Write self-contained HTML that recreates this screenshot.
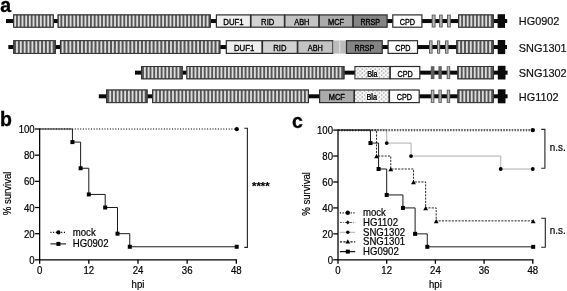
<!DOCTYPE html>
<html><head><meta charset="utf-8"><title>Figure</title>
<style>html,body{margin:0;padding:0;background:#fff}svg{display:block;filter:blur(0.35px)}.t{stroke:#000;stroke-width:.2px}</style></head>
<body>
<svg width="567" height="291" viewBox="0 0 567 291" font-family='"Liberation Sans", Arial, sans-serif'>
<defs><pattern id="dots" width="4.3" height="4" patternUnits="userSpaceOnUse"><rect width="4.3" height="4" fill="#f4f4f4"/><rect x="0.5" y="0.5" width="1.1" height="1.1" fill="#7e7e7e"/><rect x="2.65" y="2.5" width="1.1" height="1.1" fill="#888"/></pattern></defs>
<rect width="567" height="291" fill="#fff"/>
<rect x="6.00" y="19.05" width="7.50" height="4.00" fill="#0a0a0a"/>
<rect x="53.00" y="19.05" width="6.00" height="4.00" fill="#0a0a0a"/>
<rect x="210.00" y="19.05" width="6.50" height="4.00" fill="#0a0a0a"/>
<rect x="387.00" y="19.05" width="6.00" height="4.00" fill="#0a0a0a"/>
<rect x="422.00" y="19.05" width="36.50" height="4.00" fill="#0a0a0a"/>
<rect x="494.00" y="19.05" width="13.20" height="4.00" fill="#0a0a0a"/>
<rect x="13.10" y="14.40" width="40.70" height="13.30" fill="#565656"/><rect x="14.22" y="15.20" width="1.85" height="11.70" fill="#dcdcdc"/><rect x="17.89" y="15.20" width="1.85" height="11.70" fill="#dcdcdc"/><rect x="21.57" y="15.20" width="1.85" height="11.70" fill="#dcdcdc"/><rect x="25.24" y="15.20" width="1.85" height="11.70" fill="#dcdcdc"/><rect x="28.91" y="15.20" width="1.85" height="11.70" fill="#dcdcdc"/><rect x="32.58" y="15.20" width="1.85" height="11.70" fill="#dcdcdc"/><rect x="36.25" y="15.20" width="1.85" height="11.70" fill="#dcdcdc"/><rect x="39.92" y="15.20" width="1.85" height="11.70" fill="#dcdcdc"/><rect x="43.59" y="15.20" width="1.85" height="11.70" fill="#dcdcdc"/><rect x="47.26" y="15.20" width="1.85" height="11.70" fill="#dcdcdc"/><rect x="50.93" y="15.20" width="1.85" height="11.70" fill="#dcdcdc"/><rect x="13.60" y="14.90" width="39.70" height="12.30" fill="none" stroke="#333" stroke-width="1"/>
<rect x="57.60" y="14.40" width="153.20" height="13.30" fill="#565656"/><rect x="58.58" y="15.20" width="1.85" height="11.70" fill="#dcdcdc"/><rect x="62.28" y="15.20" width="1.85" height="11.70" fill="#dcdcdc"/><rect x="65.98" y="15.20" width="1.85" height="11.70" fill="#dcdcdc"/><rect x="69.68" y="15.20" width="1.85" height="11.70" fill="#dcdcdc"/><rect x="73.38" y="15.20" width="1.85" height="11.70" fill="#dcdcdc"/><rect x="77.08" y="15.20" width="1.85" height="11.70" fill="#dcdcdc"/><rect x="80.78" y="15.20" width="1.85" height="11.70" fill="#dcdcdc"/><rect x="84.48" y="15.20" width="1.85" height="11.70" fill="#dcdcdc"/><rect x="88.18" y="15.20" width="1.85" height="11.70" fill="#dcdcdc"/><rect x="91.88" y="15.20" width="1.85" height="11.70" fill="#dcdcdc"/><rect x="95.58" y="15.20" width="1.85" height="11.70" fill="#dcdcdc"/><rect x="99.28" y="15.20" width="1.85" height="11.70" fill="#dcdcdc"/><rect x="102.98" y="15.20" width="1.85" height="11.70" fill="#dcdcdc"/><rect x="106.68" y="15.20" width="1.85" height="11.70" fill="#dcdcdc"/><rect x="110.38" y="15.20" width="1.85" height="11.70" fill="#dcdcdc"/><rect x="114.08" y="15.20" width="1.85" height="11.70" fill="#dcdcdc"/><rect x="117.78" y="15.20" width="1.85" height="11.70" fill="#dcdcdc"/><rect x="121.48" y="15.20" width="1.85" height="11.70" fill="#dcdcdc"/><rect x="125.18" y="15.20" width="1.85" height="11.70" fill="#dcdcdc"/><rect x="128.88" y="15.20" width="1.85" height="11.70" fill="#dcdcdc"/><rect x="132.58" y="15.20" width="1.85" height="11.70" fill="#dcdcdc"/><rect x="136.28" y="15.20" width="1.85" height="11.70" fill="#dcdcdc"/><rect x="139.97" y="15.20" width="1.85" height="11.70" fill="#dcdcdc"/><rect x="143.67" y="15.20" width="1.85" height="11.70" fill="#dcdcdc"/><rect x="147.37" y="15.20" width="1.85" height="11.70" fill="#dcdcdc"/><rect x="151.07" y="15.20" width="1.85" height="11.70" fill="#dcdcdc"/><rect x="154.77" y="15.20" width="1.85" height="11.70" fill="#dcdcdc"/><rect x="158.47" y="15.20" width="1.85" height="11.70" fill="#dcdcdc"/><rect x="162.17" y="15.20" width="1.85" height="11.70" fill="#dcdcdc"/><rect x="165.87" y="15.20" width="1.85" height="11.70" fill="#dcdcdc"/><rect x="169.57" y="15.20" width="1.85" height="11.70" fill="#dcdcdc"/><rect x="173.27" y="15.20" width="1.85" height="11.70" fill="#dcdcdc"/><rect x="176.97" y="15.20" width="1.85" height="11.70" fill="#dcdcdc"/><rect x="180.67" y="15.20" width="1.85" height="11.70" fill="#dcdcdc"/><rect x="184.37" y="15.20" width="1.85" height="11.70" fill="#dcdcdc"/><rect x="188.07" y="15.20" width="1.85" height="11.70" fill="#dcdcdc"/><rect x="191.77" y="15.20" width="1.85" height="11.70" fill="#dcdcdc"/><rect x="195.47" y="15.20" width="1.85" height="11.70" fill="#dcdcdc"/><rect x="199.17" y="15.20" width="1.85" height="11.70" fill="#dcdcdc"/><rect x="202.87" y="15.20" width="1.85" height="11.70" fill="#dcdcdc"/><rect x="206.57" y="15.20" width="1.85" height="11.70" fill="#dcdcdc"/><rect x="58.10" y="14.90" width="152.20" height="12.30" fill="none" stroke="#333" stroke-width="1"/>
<rect x="216.40" y="14.90" width="34.10" height="12.30" fill="#efefef" stroke="#2c2c2c" stroke-width="1.2"/>
<text transform="translate(233.45,24.90) scale(0.9,1)" font-size="8.7" text-anchor="middle" fill="#000" stroke="#000" stroke-width="0.35">DUF1</text>
<rect x="251.00" y="14.90" width="33.40" height="12.30" fill="#d2d2d2" stroke="#2c2c2c" stroke-width="1.2"/>
<text transform="translate(267.70,24.90) scale(0.88,1)" font-size="8.7" text-anchor="middle" fill="#000" stroke="#000" stroke-width="0.35">RID</text>
<rect x="284.90" y="14.90" width="33.90" height="12.30" fill="#c3c3c3" stroke="#2c2c2c" stroke-width="1.2"/>
<text transform="translate(301.85,24.90) scale(0.85,1)" font-size="8.7" text-anchor="middle" fill="#000" stroke="#000" stroke-width="0.35">ABH</text>
<rect x="319.30" y="14.90" width="33.50" height="12.30" fill="#ababab" stroke="#2c2c2c" stroke-width="1.2"/>
<text transform="translate(336.05,24.90) scale(0.855,1)" font-size="8.7" text-anchor="middle" fill="#000" stroke="#000" stroke-width="0.35">MCF</text>
<rect x="353.30" y="14.90" width="33.80" height="12.30" fill="#848484" stroke="#2c2c2c" stroke-width="1.2"/>
<text transform="translate(370.20,24.90) scale(0.81,1)" font-size="8.7" text-anchor="middle" fill="#000" stroke="#000" stroke-width="0.35">RRSP</text>
<rect x="392.80" y="14.90" width="29.10" height="12.30" fill="#fff" stroke="#2c2c2c" stroke-width="1.2"/>
<text transform="translate(407.35,24.90) scale(0.835,1)" font-size="8.7" text-anchor="middle" fill="#000" stroke="#000" stroke-width="0.35">CPD</text>
<rect x="431.70" y="14.60" width="3.90" height="12.90" fill="#606060"/>
<rect x="432.70" y="15.50" width="1.90" height="11.10" fill="#b8b8b8"/>
<rect x="439.10" y="14.60" width="3.60" height="12.90" fill="#606060"/>
<rect x="440.10" y="15.50" width="1.60" height="11.10" fill="#b8b8b8"/>
<rect x="447.00" y="14.60" width="3.80" height="12.90" fill="#606060"/>
<rect x="448.00" y="15.50" width="1.80" height="11.10" fill="#b8b8b8"/>
<rect x="458.10" y="14.40" width="35.70" height="13.30" fill="#565656"/><rect x="459.32" y="15.20" width="1.85" height="11.70" fill="#dcdcdc"/><rect x="463.02" y="15.20" width="1.85" height="11.70" fill="#dcdcdc"/><rect x="466.72" y="15.20" width="1.85" height="11.70" fill="#dcdcdc"/><rect x="470.42" y="15.20" width="1.85" height="11.70" fill="#dcdcdc"/><rect x="474.12" y="15.20" width="1.85" height="11.70" fill="#dcdcdc"/><rect x="477.82" y="15.20" width="1.85" height="11.70" fill="#dcdcdc"/><rect x="481.52" y="15.20" width="1.85" height="11.70" fill="#dcdcdc"/><rect x="485.22" y="15.20" width="1.85" height="11.70" fill="#dcdcdc"/><rect x="488.92" y="15.20" width="1.85" height="11.70" fill="#dcdcdc"/><rect x="458.60" y="14.90" width="34.70" height="12.30" fill="none" stroke="#333" stroke-width="1"/>
<rect x="497.60" y="14.20" width="7.40" height="13.70" fill="#0a0a0a"/>
<text x="518.8" y="24.8" font-size="10.9" fill="#111" stroke="#111" stroke-width="0.2">HG0902</text>
<rect x="8.30" y="45.05" width="5.30" height="4.00" fill="#0a0a0a"/>
<rect x="55.00" y="45.05" width="5.00" height="4.00" fill="#0a0a0a"/>
<rect x="219.50" y="45.05" width="6.80" height="4.00" fill="#0a0a0a"/>
<rect x="382.00" y="45.05" width="6.00" height="4.00" fill="#0a0a0a"/>
<rect x="417.50" y="45.05" width="39.50" height="4.00" fill="#0a0a0a"/>
<rect x="493.50" y="45.05" width="13.50" height="4.00" fill="#0a0a0a"/>
<rect x="13.20" y="40.20" width="42.70" height="13.70" fill="#565656"/><rect x="16.04" y="41.00" width="1.85" height="12.10" fill="#dcdcdc"/><rect x="19.89" y="41.00" width="1.85" height="12.10" fill="#dcdcdc"/><rect x="23.75" y="41.00" width="1.85" height="12.10" fill="#dcdcdc"/><rect x="27.61" y="41.00" width="1.85" height="12.10" fill="#dcdcdc"/><rect x="31.47" y="41.00" width="1.85" height="12.10" fill="#dcdcdc"/><rect x="35.34" y="41.00" width="1.85" height="12.10" fill="#dcdcdc"/><rect x="39.20" y="41.00" width="1.85" height="12.10" fill="#dcdcdc"/><rect x="43.05" y="41.00" width="1.85" height="12.10" fill="#dcdcdc"/><rect x="46.91" y="41.00" width="1.85" height="12.10" fill="#dcdcdc"/><rect x="50.77" y="41.00" width="1.85" height="12.10" fill="#dcdcdc"/><rect x="13.70" y="40.70" width="41.70" height="12.70" fill="none" stroke="#333" stroke-width="1"/>
<rect x="59.95" y="40.20" width="160.45" height="13.70" fill="#565656"/><rect x="61.68" y="41.00" width="1.85" height="12.10" fill="#dcdcdc"/><rect x="65.55" y="41.00" width="1.85" height="12.10" fill="#dcdcdc"/><rect x="69.42" y="41.00" width="1.85" height="12.10" fill="#dcdcdc"/><rect x="73.29" y="41.00" width="1.85" height="12.10" fill="#dcdcdc"/><rect x="77.16" y="41.00" width="1.85" height="12.10" fill="#dcdcdc"/><rect x="81.03" y="41.00" width="1.85" height="12.10" fill="#dcdcdc"/><rect x="84.90" y="41.00" width="1.85" height="12.10" fill="#dcdcdc"/><rect x="88.77" y="41.00" width="1.85" height="12.10" fill="#dcdcdc"/><rect x="92.64" y="41.00" width="1.85" height="12.10" fill="#dcdcdc"/><rect x="96.51" y="41.00" width="1.85" height="12.10" fill="#dcdcdc"/><rect x="100.38" y="41.00" width="1.85" height="12.10" fill="#dcdcdc"/><rect x="104.26" y="41.00" width="1.85" height="12.10" fill="#dcdcdc"/><rect x="108.13" y="41.00" width="1.85" height="12.10" fill="#dcdcdc"/><rect x="112.00" y="41.00" width="1.85" height="12.10" fill="#dcdcdc"/><rect x="115.87" y="41.00" width="1.85" height="12.10" fill="#dcdcdc"/><rect x="119.74" y="41.00" width="1.85" height="12.10" fill="#dcdcdc"/><rect x="123.61" y="41.00" width="1.85" height="12.10" fill="#dcdcdc"/><rect x="127.48" y="41.00" width="1.85" height="12.10" fill="#dcdcdc"/><rect x="131.35" y="41.00" width="1.85" height="12.10" fill="#dcdcdc"/><rect x="135.22" y="41.00" width="1.85" height="12.10" fill="#dcdcdc"/><rect x="139.09" y="41.00" width="1.85" height="12.10" fill="#dcdcdc"/><rect x="142.97" y="41.00" width="1.85" height="12.10" fill="#dcdcdc"/><rect x="146.84" y="41.00" width="1.85" height="12.10" fill="#dcdcdc"/><rect x="150.71" y="41.00" width="1.85" height="12.10" fill="#dcdcdc"/><rect x="154.58" y="41.00" width="1.85" height="12.10" fill="#dcdcdc"/><rect x="158.45" y="41.00" width="1.85" height="12.10" fill="#dcdcdc"/><rect x="162.32" y="41.00" width="1.85" height="12.10" fill="#dcdcdc"/><rect x="166.19" y="41.00" width="1.85" height="12.10" fill="#dcdcdc"/><rect x="170.06" y="41.00" width="1.85" height="12.10" fill="#dcdcdc"/><rect x="173.93" y="41.00" width="1.85" height="12.10" fill="#dcdcdc"/><rect x="177.81" y="41.00" width="1.85" height="12.10" fill="#dcdcdc"/><rect x="181.68" y="41.00" width="1.85" height="12.10" fill="#dcdcdc"/><rect x="185.55" y="41.00" width="1.85" height="12.10" fill="#dcdcdc"/><rect x="189.42" y="41.00" width="1.85" height="12.10" fill="#dcdcdc"/><rect x="193.29" y="41.00" width="1.85" height="12.10" fill="#dcdcdc"/><rect x="197.16" y="41.00" width="1.85" height="12.10" fill="#dcdcdc"/><rect x="201.03" y="41.00" width="1.85" height="12.10" fill="#dcdcdc"/><rect x="204.90" y="41.00" width="1.85" height="12.10" fill="#dcdcdc"/><rect x="208.77" y="41.00" width="1.85" height="12.10" fill="#dcdcdc"/><rect x="212.64" y="41.00" width="1.85" height="12.10" fill="#dcdcdc"/><rect x="216.52" y="41.00" width="1.85" height="12.10" fill="#dcdcdc"/><rect x="60.45" y="40.70" width="159.45" height="12.70" fill="none" stroke="#333" stroke-width="1"/>
<rect x="226.30" y="40.70" width="35.70" height="12.70" fill="#efefef" stroke="#2c2c2c" stroke-width="1.2"/>
<text transform="translate(244.15,50.90) scale(0.9,1)" font-size="8.7" text-anchor="middle" fill="#000" stroke="#000" stroke-width="0.35">DUF1</text>
<rect x="262.50" y="40.70" width="34.80" height="12.70" fill="#d2d2d2" stroke="#2c2c2c" stroke-width="1.2"/>
<text transform="translate(279.90,50.90) scale(0.88,1)" font-size="8.7" text-anchor="middle" fill="#000" stroke="#000" stroke-width="0.35">RID</text>
<rect x="297.80" y="40.70" width="35.10" height="12.70" fill="#c3c3c3" stroke="#2c2c2c" stroke-width="1.2"/>
<text transform="translate(315.35,50.90) scale(0.85,1)" font-size="8.7" text-anchor="middle" fill="#000" stroke="#000" stroke-width="0.35">ABH</text>
<rect x="333.40" y="40.50" width="12.60" height="13.10" fill="#bcbcbc"/>
<rect x="339.00" y="40.50" width="1.4" height="13.10" fill="#d8d8d8"/>
<rect x="346.50" y="40.70" width="35.70" height="12.70" fill="#848484" stroke="#2c2c2c" stroke-width="1.2"/>
<text transform="translate(364.35,50.90) scale(0.81,1)" font-size="8.7" text-anchor="middle" fill="#000" stroke="#000" stroke-width="0.35">RRSP</text>
<rect x="388.10" y="40.70" width="29.40" height="12.70" fill="#fff" stroke="#2c2c2c" stroke-width="1.2"/>
<text transform="translate(402.80,50.90) scale(0.835,1)" font-size="8.7" text-anchor="middle" fill="#000" stroke="#000" stroke-width="0.35">CPD</text>
<rect x="429.00" y="40.40" width="3.60" height="13.30" fill="#606060"/>
<rect x="430.00" y="41.30" width="1.60" height="11.50" fill="#b8b8b8"/>
<rect x="437.00" y="40.40" width="3.20" height="13.30" fill="#606060"/>
<rect x="438.00" y="41.30" width="1.20" height="11.50" fill="#b8b8b8"/>
<rect x="445.00" y="40.40" width="3.50" height="13.30" fill="#606060"/>
<rect x="446.00" y="41.30" width="1.50" height="11.50" fill="#b8b8b8"/>
<rect x="456.20" y="40.20" width="37.60" height="13.70" fill="#565656"/><rect x="458.27" y="41.00" width="1.85" height="12.10" fill="#dcdcdc"/><rect x="462.13" y="41.00" width="1.85" height="12.10" fill="#dcdcdc"/><rect x="466.00" y="41.00" width="1.85" height="12.10" fill="#dcdcdc"/><rect x="469.86" y="41.00" width="1.85" height="12.10" fill="#dcdcdc"/><rect x="473.72" y="41.00" width="1.85" height="12.10" fill="#dcdcdc"/><rect x="477.58" y="41.00" width="1.85" height="12.10" fill="#dcdcdc"/><rect x="481.44" y="41.00" width="1.85" height="12.10" fill="#dcdcdc"/><rect x="485.30" y="41.00" width="1.85" height="12.10" fill="#dcdcdc"/><rect x="489.16" y="41.00" width="1.85" height="12.10" fill="#dcdcdc"/><rect x="456.70" y="40.70" width="36.60" height="12.70" fill="none" stroke="#333" stroke-width="1"/>
<rect x="497.70" y="40.00" width="7.50" height="14.10" fill="#0a0a0a"/>
<text x="518.8" y="51.7" font-size="10.9" fill="#111" stroke="#111" stroke-width="0.2">SNG1301</text>
<rect x="135.00" y="70.65" width="6.20" height="4.00" fill="#0a0a0a"/>
<rect x="182.50" y="70.65" width="4.10" height="4.00" fill="#0a0a0a"/>
<rect x="344.00" y="70.65" width="11.00" height="4.00" fill="#0a0a0a"/>
<rect x="420.00" y="70.65" width="38.00" height="4.00" fill="#0a0a0a"/>
<rect x="494.00" y="70.65" width="13.60" height="4.00" fill="#0a0a0a"/>
<rect x="141.00" y="66.00" width="41.70" height="13.30" fill="#565656"/><rect x="143.97" y="66.80" width="1.85" height="11.70" fill="#dcdcdc"/><rect x="147.69" y="66.80" width="1.85" height="11.70" fill="#dcdcdc"/><rect x="151.41" y="66.80" width="1.85" height="11.70" fill="#dcdcdc"/><rect x="155.12" y="66.80" width="1.85" height="11.70" fill="#dcdcdc"/><rect x="158.84" y="66.80" width="1.85" height="11.70" fill="#dcdcdc"/><rect x="162.55" y="66.80" width="1.85" height="11.70" fill="#dcdcdc"/><rect x="166.27" y="66.80" width="1.85" height="11.70" fill="#dcdcdc"/><rect x="169.98" y="66.80" width="1.85" height="11.70" fill="#dcdcdc"/><rect x="173.70" y="66.80" width="1.85" height="11.70" fill="#dcdcdc"/><rect x="177.41" y="66.80" width="1.85" height="11.70" fill="#dcdcdc"/><rect x="141.50" y="66.50" width="40.70" height="12.30" fill="none" stroke="#333" stroke-width="1"/>
<rect x="186.40" y="66.00" width="158.10" height="13.30" fill="#565656"/><rect x="187.07" y="66.80" width="1.85" height="11.70" fill="#dcdcdc"/><rect x="190.79" y="66.80" width="1.85" height="11.70" fill="#dcdcdc"/><rect x="194.50" y="66.80" width="1.85" height="11.70" fill="#dcdcdc"/><rect x="198.22" y="66.80" width="1.85" height="11.70" fill="#dcdcdc"/><rect x="201.94" y="66.80" width="1.85" height="11.70" fill="#dcdcdc"/><rect x="205.65" y="66.80" width="1.85" height="11.70" fill="#dcdcdc"/><rect x="209.37" y="66.80" width="1.85" height="11.70" fill="#dcdcdc"/><rect x="213.08" y="66.80" width="1.85" height="11.70" fill="#dcdcdc"/><rect x="216.80" y="66.80" width="1.85" height="11.70" fill="#dcdcdc"/><rect x="220.51" y="66.80" width="1.85" height="11.70" fill="#dcdcdc"/><rect x="224.23" y="66.80" width="1.85" height="11.70" fill="#dcdcdc"/><rect x="227.94" y="66.80" width="1.85" height="11.70" fill="#dcdcdc"/><rect x="231.66" y="66.80" width="1.85" height="11.70" fill="#dcdcdc"/><rect x="235.37" y="66.80" width="1.85" height="11.70" fill="#dcdcdc"/><rect x="239.09" y="66.80" width="1.85" height="11.70" fill="#dcdcdc"/><rect x="242.80" y="66.80" width="1.85" height="11.70" fill="#dcdcdc"/><rect x="246.52" y="66.80" width="1.85" height="11.70" fill="#dcdcdc"/><rect x="250.23" y="66.80" width="1.85" height="11.70" fill="#dcdcdc"/><rect x="253.95" y="66.80" width="1.85" height="11.70" fill="#dcdcdc"/><rect x="257.66" y="66.80" width="1.85" height="11.70" fill="#dcdcdc"/><rect x="261.38" y="66.80" width="1.85" height="11.70" fill="#dcdcdc"/><rect x="265.09" y="66.80" width="1.85" height="11.70" fill="#dcdcdc"/><rect x="268.80" y="66.80" width="1.85" height="11.70" fill="#dcdcdc"/><rect x="272.52" y="66.80" width="1.85" height="11.70" fill="#dcdcdc"/><rect x="276.23" y="66.80" width="1.85" height="11.70" fill="#dcdcdc"/><rect x="279.95" y="66.80" width="1.85" height="11.70" fill="#dcdcdc"/><rect x="283.66" y="66.80" width="1.85" height="11.70" fill="#dcdcdc"/><rect x="287.38" y="66.80" width="1.85" height="11.70" fill="#dcdcdc"/><rect x="291.09" y="66.80" width="1.85" height="11.70" fill="#dcdcdc"/><rect x="294.81" y="66.80" width="1.85" height="11.70" fill="#dcdcdc"/><rect x="298.52" y="66.80" width="1.85" height="11.70" fill="#dcdcdc"/><rect x="302.24" y="66.80" width="1.85" height="11.70" fill="#dcdcdc"/><rect x="305.95" y="66.80" width="1.85" height="11.70" fill="#dcdcdc"/><rect x="309.67" y="66.80" width="1.85" height="11.70" fill="#dcdcdc"/><rect x="313.38" y="66.80" width="1.85" height="11.70" fill="#dcdcdc"/><rect x="317.10" y="66.80" width="1.85" height="11.70" fill="#dcdcdc"/><rect x="320.81" y="66.80" width="1.85" height="11.70" fill="#dcdcdc"/><rect x="324.53" y="66.80" width="1.85" height="11.70" fill="#dcdcdc"/><rect x="328.24" y="66.80" width="1.85" height="11.70" fill="#dcdcdc"/><rect x="331.96" y="66.80" width="1.85" height="11.70" fill="#dcdcdc"/><rect x="335.67" y="66.80" width="1.85" height="11.70" fill="#dcdcdc"/><rect x="339.39" y="66.80" width="1.85" height="11.70" fill="#dcdcdc"/><rect x="186.90" y="66.50" width="157.10" height="12.30" fill="none" stroke="#333" stroke-width="1"/>
<rect x="354.90" y="66.50" width="34.90" height="12.30" fill="url(#dots)" stroke="#333" stroke-width="1.1"/>
<text transform="translate(372.35,76.50) scale(0.83,1)" font-size="8.7" text-anchor="middle" fill="#111" stroke="#f6f6f6" stroke-width="2" paint-order="stroke">Bla</text>
<text transform="translate(372.35,76.50) scale(0.83,1)" font-size="8.7" text-anchor="middle" fill="#111" stroke="#111" stroke-width="0.2">Bla</text>
<rect x="390.30" y="66.50" width="29.50" height="12.30" fill="#fff" stroke="#2c2c2c" stroke-width="1.2"/>
<text transform="translate(405.05,76.50) scale(0.835,1)" font-size="8.7" text-anchor="middle" fill="#000" stroke="#000" stroke-width="0.35">CPD</text>
<rect x="430.80" y="66.20" width="3.60" height="12.90" fill="#606060"/>
<rect x="438.40" y="66.20" width="3.40" height="12.90" fill="#606060"/>
<rect x="446.70" y="66.20" width="3.50" height="12.90" fill="#606060"/>
<rect x="447.70" y="67.10" width="1.50" height="11.10" fill="#b8b8b8"/>
<rect x="457.30" y="66.00" width="36.70" height="13.30" fill="#565656"/><rect x="458.98" y="66.80" width="1.85" height="11.70" fill="#dcdcdc"/><rect x="462.69" y="66.80" width="1.85" height="11.70" fill="#dcdcdc"/><rect x="466.39" y="66.80" width="1.85" height="11.70" fill="#dcdcdc"/><rect x="470.10" y="66.80" width="1.85" height="11.70" fill="#dcdcdc"/><rect x="473.81" y="66.80" width="1.85" height="11.70" fill="#dcdcdc"/><rect x="477.52" y="66.80" width="1.85" height="11.70" fill="#dcdcdc"/><rect x="481.23" y="66.80" width="1.85" height="11.70" fill="#dcdcdc"/><rect x="484.94" y="66.80" width="1.85" height="11.70" fill="#dcdcdc"/><rect x="488.65" y="66.80" width="1.85" height="11.70" fill="#dcdcdc"/><rect x="457.80" y="66.50" width="35.70" height="12.30" fill="none" stroke="#333" stroke-width="1"/>
<rect x="497.80" y="65.80" width="7.70" height="13.70" fill="#0a0a0a"/>
<text x="518.8" y="77" font-size="10.9" fill="#111" stroke="#111" stroke-width="0.2">SNG1302</text>
<rect x="98.80" y="94.30" width="7.20" height="4.00" fill="#0a0a0a"/>
<rect x="147.20" y="94.30" width="5.00" height="4.00" fill="#0a0a0a"/>
<rect x="308.50" y="94.30" width="11.10" height="4.00" fill="#0a0a0a"/>
<rect x="419.20" y="94.30" width="39.20" height="4.00" fill="#0a0a0a"/>
<rect x="494.00" y="94.30" width="13.60" height="4.00" fill="#0a0a0a"/>
<rect x="106.00" y="89.50" width="41.60" height="13.60" fill="#565656"/><rect x="109.28" y="90.30" width="1.85" height="12.00" fill="#dcdcdc"/><rect x="113.01" y="90.30" width="1.85" height="12.00" fill="#dcdcdc"/><rect x="116.74" y="90.30" width="1.85" height="12.00" fill="#dcdcdc"/><rect x="120.47" y="90.30" width="1.85" height="12.00" fill="#dcdcdc"/><rect x="124.20" y="90.30" width="1.85" height="12.00" fill="#dcdcdc"/><rect x="127.93" y="90.30" width="1.85" height="12.00" fill="#dcdcdc"/><rect x="131.66" y="90.30" width="1.85" height="12.00" fill="#dcdcdc"/><rect x="135.38" y="90.30" width="1.85" height="12.00" fill="#dcdcdc"/><rect x="139.11" y="90.30" width="1.85" height="12.00" fill="#dcdcdc"/><rect x="142.84" y="90.30" width="1.85" height="12.00" fill="#dcdcdc"/><rect x="106.50" y="90.00" width="40.60" height="12.60" fill="none" stroke="#333" stroke-width="1"/>
<rect x="152.00" y="89.50" width="157.00" height="13.60" fill="#565656"/><rect x="153.47" y="90.30" width="1.85" height="12.00" fill="#dcdcdc"/><rect x="157.19" y="90.30" width="1.85" height="12.00" fill="#dcdcdc"/><rect x="160.91" y="90.30" width="1.85" height="12.00" fill="#dcdcdc"/><rect x="164.62" y="90.30" width="1.85" height="12.00" fill="#dcdcdc"/><rect x="168.34" y="90.30" width="1.85" height="12.00" fill="#dcdcdc"/><rect x="172.06" y="90.30" width="1.85" height="12.00" fill="#dcdcdc"/><rect x="175.77" y="90.30" width="1.85" height="12.00" fill="#dcdcdc"/><rect x="179.49" y="90.30" width="1.85" height="12.00" fill="#dcdcdc"/><rect x="183.20" y="90.30" width="1.85" height="12.00" fill="#dcdcdc"/><rect x="186.92" y="90.30" width="1.85" height="12.00" fill="#dcdcdc"/><rect x="190.64" y="90.30" width="1.85" height="12.00" fill="#dcdcdc"/><rect x="194.35" y="90.30" width="1.85" height="12.00" fill="#dcdcdc"/><rect x="198.07" y="90.30" width="1.85" height="12.00" fill="#dcdcdc"/><rect x="201.78" y="90.30" width="1.85" height="12.00" fill="#dcdcdc"/><rect x="205.50" y="90.30" width="1.85" height="12.00" fill="#dcdcdc"/><rect x="209.22" y="90.30" width="1.85" height="12.00" fill="#dcdcdc"/><rect x="212.93" y="90.30" width="1.85" height="12.00" fill="#dcdcdc"/><rect x="216.65" y="90.30" width="1.85" height="12.00" fill="#dcdcdc"/><rect x="220.36" y="90.30" width="1.85" height="12.00" fill="#dcdcdc"/><rect x="224.08" y="90.30" width="1.85" height="12.00" fill="#dcdcdc"/><rect x="227.80" y="90.30" width="1.85" height="12.00" fill="#dcdcdc"/><rect x="231.51" y="90.30" width="1.85" height="12.00" fill="#dcdcdc"/><rect x="235.23" y="90.30" width="1.85" height="12.00" fill="#dcdcdc"/><rect x="238.94" y="90.30" width="1.85" height="12.00" fill="#dcdcdc"/><rect x="242.66" y="90.30" width="1.85" height="12.00" fill="#dcdcdc"/><rect x="246.38" y="90.30" width="1.85" height="12.00" fill="#dcdcdc"/><rect x="250.09" y="90.30" width="1.85" height="12.00" fill="#dcdcdc"/><rect x="253.81" y="90.30" width="1.85" height="12.00" fill="#dcdcdc"/><rect x="257.52" y="90.30" width="1.85" height="12.00" fill="#dcdcdc"/><rect x="261.24" y="90.30" width="1.85" height="12.00" fill="#dcdcdc"/><rect x="264.96" y="90.30" width="1.85" height="12.00" fill="#dcdcdc"/><rect x="268.67" y="90.30" width="1.85" height="12.00" fill="#dcdcdc"/><rect x="272.39" y="90.30" width="1.85" height="12.00" fill="#dcdcdc"/><rect x="276.10" y="90.30" width="1.85" height="12.00" fill="#dcdcdc"/><rect x="279.82" y="90.30" width="1.85" height="12.00" fill="#dcdcdc"/><rect x="283.54" y="90.30" width="1.85" height="12.00" fill="#dcdcdc"/><rect x="287.25" y="90.30" width="1.85" height="12.00" fill="#dcdcdc"/><rect x="290.97" y="90.30" width="1.85" height="12.00" fill="#dcdcdc"/><rect x="294.68" y="90.30" width="1.85" height="12.00" fill="#dcdcdc"/><rect x="298.40" y="90.30" width="1.85" height="12.00" fill="#dcdcdc"/><rect x="302.12" y="90.30" width="1.85" height="12.00" fill="#dcdcdc"/><rect x="305.83" y="90.30" width="1.85" height="12.00" fill="#dcdcdc"/><rect x="152.50" y="90.00" width="156.00" height="12.60" fill="none" stroke="#333" stroke-width="1"/>
<rect x="319.60" y="90.00" width="34.40" height="12.60" fill="#ababab" stroke="#2c2c2c" stroke-width="1.2"/>
<text transform="translate(336.80,100.15) scale(0.855,1)" font-size="8.7" text-anchor="middle" fill="#000" stroke="#000" stroke-width="0.35">MCF</text>
<rect x="354.50" y="90.00" width="34.50" height="12.60" fill="url(#dots)" stroke="#333" stroke-width="1.1"/>
<text transform="translate(371.75,100.15) scale(0.83,1)" font-size="8.7" text-anchor="middle" fill="#111" stroke="#f6f6f6" stroke-width="2" paint-order="stroke">Bla</text>
<text transform="translate(371.75,100.15) scale(0.83,1)" font-size="8.7" text-anchor="middle" fill="#111" stroke="#111" stroke-width="0.2">Bla</text>
<rect x="389.50" y="90.00" width="29.70" height="12.60" fill="#fff" stroke="#2c2c2c" stroke-width="1.2"/>
<text transform="translate(404.35,100.15) scale(0.835,1)" font-size="8.7" text-anchor="middle" fill="#000" stroke="#000" stroke-width="0.35">CPD</text>
<rect x="430.80" y="89.70" width="3.60" height="13.20" fill="#606060"/>
<rect x="431.80" y="90.60" width="1.60" height="11.40" fill="#b8b8b8"/>
<rect x="438.40" y="89.70" width="3.40" height="13.20" fill="#606060"/>
<rect x="439.40" y="90.60" width="1.40" height="11.40" fill="#b8b8b8"/>
<rect x="446.70" y="89.70" width="3.50" height="13.20" fill="#606060"/>
<rect x="447.70" y="90.60" width="1.50" height="11.40" fill="#b8b8b8"/>
<rect x="457.40" y="89.50" width="36.40" height="13.60" fill="#565656"/><rect x="459.67" y="90.30" width="1.85" height="12.00" fill="#dcdcdc"/><rect x="463.38" y="90.30" width="1.85" height="12.00" fill="#dcdcdc"/><rect x="467.09" y="90.30" width="1.85" height="12.00" fill="#dcdcdc"/><rect x="470.80" y="90.30" width="1.85" height="12.00" fill="#dcdcdc"/><rect x="474.51" y="90.30" width="1.85" height="12.00" fill="#dcdcdc"/><rect x="478.22" y="90.30" width="1.85" height="12.00" fill="#dcdcdc"/><rect x="481.93" y="90.30" width="1.85" height="12.00" fill="#dcdcdc"/><rect x="485.64" y="90.30" width="1.85" height="12.00" fill="#dcdcdc"/><rect x="489.35" y="90.30" width="1.85" height="12.00" fill="#dcdcdc"/><rect x="457.90" y="90.00" width="35.40" height="12.60" fill="none" stroke="#333" stroke-width="1"/>
<rect x="497.80" y="89.30" width="7.70" height="14.00" fill="#0a0a0a"/>
<text x="518.8" y="100.6" font-size="10.9" fill="#111" stroke="#111" stroke-width="0.2">HG1102</text>
<text x="0.2" y="11.6" font-size="19.5" font-weight="bold" fill="#000" stroke="#000" stroke-width="0.3">a</text>
<text x="-0.1" y="125.7" font-size="19.5" font-weight="bold" fill="#000" stroke="#000" stroke-width="0.3">b</text>
<text x="292.1" y="128.4" font-size="19.5" font-weight="bold" fill="#000" stroke="#000" stroke-width="0.3">c</text>
<path d="M39.65 128.40V259.85H237.01" fill="none" stroke="#000" stroke-width="1.25"/>
<path d="M34.85 259.85H39.65" stroke="#000" stroke-width="1.25"/>
<text class="t" transform="translate(34.65,263.90) scale(0.915,1)" font-size="10.5" text-anchor="end">0</text>
<path d="M34.85 233.68H39.65" stroke="#000" stroke-width="1.25"/>
<text class="t" transform="translate(34.65,237.73) scale(0.915,1)" font-size="10.5" text-anchor="end">20</text>
<path d="M34.85 207.51H39.65" stroke="#000" stroke-width="1.25"/>
<text class="t" transform="translate(34.65,211.56) scale(0.915,1)" font-size="10.5" text-anchor="end">40</text>
<path d="M34.85 181.34H39.65" stroke="#000" stroke-width="1.25"/>
<text class="t" transform="translate(34.65,185.39) scale(0.915,1)" font-size="10.5" text-anchor="end">60</text>
<path d="M34.85 155.17H39.65" stroke="#000" stroke-width="1.25"/>
<text class="t" transform="translate(34.65,159.22) scale(0.915,1)" font-size="10.5" text-anchor="end">80</text>
<path d="M34.85 129.00H39.65" stroke="#000" stroke-width="1.25"/>
<text class="t" transform="translate(34.65,133.05) scale(0.915,1)" font-size="10.5" text-anchor="end">100</text>
<path d="M39.65 259.85V263.85" stroke="#000" stroke-width="1.3"/>
<text class="t" transform="translate(39.65,273.95) scale(0.915,1)" font-size="10.5" text-anchor="middle">0</text>
<path d="M88.81 259.85V263.85" stroke="#000" stroke-width="1.3"/>
<text class="t" transform="translate(88.81,273.95) scale(0.915,1)" font-size="10.5" text-anchor="middle">12</text>
<path d="M137.98 259.85V263.85" stroke="#000" stroke-width="1.3"/>
<text class="t" transform="translate(137.98,273.95) scale(0.915,1)" font-size="10.5" text-anchor="middle">24</text>
<path d="M187.14 259.85V263.85" stroke="#000" stroke-width="1.3"/>
<text class="t" transform="translate(187.14,273.95) scale(0.915,1)" font-size="10.5" text-anchor="middle">36</text>
<path d="M236.31 259.85V263.85" stroke="#000" stroke-width="1.3"/>
<text class="t" transform="translate(236.31,273.95) scale(0.915,1)" font-size="10.5" text-anchor="middle">48</text>
<text class="t" transform="translate(137.98,287.50) scale(0.915,1)" font-size="10.5" text-anchor="middle">hpi</text>
<text class="t" transform="translate(10.90,193.43) rotate(-90) scale(0.915,1)" font-size="10.5" text-anchor="middle">% survival</text>
<path d="M39.65 129.00H236.31" stroke="#000" stroke-width="1.2" stroke-dasharray="1.1 1.6"/>
<circle cx="236.81" cy="129.20" r="2.1" fill="#000"/>
<path d="M39.65 129.00H72.43V142.09H80.62V168.25H88.81V194.43H105.20V207.51H117.49V233.68H129.78V246.77H236.31" fill="none" stroke="#1a1a1a" stroke-width="1.0"/>
<rect x="70.43" y="140.09" width="4.0" height="4.0" fill="#000"/>
<rect x="78.62" y="166.25" width="4.0" height="4.0" fill="#000"/>
<rect x="86.81" y="192.43" width="4.0" height="4.0" fill="#000"/>
<rect x="103.20" y="205.51" width="4.0" height="4.0" fill="#000"/>
<rect x="115.49" y="231.68" width="4.0" height="4.0" fill="#000"/>
<rect x="127.78" y="244.77" width="4.0" height="4.0" fill="#000"/>
<rect x="234.71" y="244.77" width="4.0" height="4.0" fill="#000"/>
<path d="M244.3 128.3H247.4V247.4H244.3" fill="none" stroke="#222" stroke-width="1.1"/>
<text class="t" x="260.8" y="190.2" font-size="11" font-weight="bold" text-anchor="middle" textLength="17.5" lengthAdjust="spacingAndGlyphs">****</text>
<path d="M50.4 232.4H66" stroke="#000" stroke-width="1.2" stroke-dasharray="1.1 1.6"/>
<circle cx="58.40" cy="232.40" r="2.1" fill="#000"/>
<text class="t" transform="translate(72.80,235.90) scale(0.915,1)" font-size="10.5">mock</text>
<path d="M50.4 243.9H66" stroke="#1a1a1a" stroke-width="1.1"/>
<rect x="56.40" y="241.90" width="4.0" height="4.0" fill="#000"/>
<text class="t" transform="translate(72.80,247.40) scale(0.915,1)" font-size="10.5">HG0902</text>
<path d="M338.00 129.50V259.80H533.48" fill="none" stroke="#000" stroke-width="1.25"/>
<path d="M333.20 259.80H338.00" stroke="#000" stroke-width="1.25"/>
<text class="t" transform="translate(333.00,263.85) scale(0.915,1)" font-size="10.5" text-anchor="end">0</text>
<path d="M333.20 233.86H338.00" stroke="#000" stroke-width="1.25"/>
<text class="t" transform="translate(333.00,237.91) scale(0.915,1)" font-size="10.5" text-anchor="end">20</text>
<path d="M333.20 207.92H338.00" stroke="#000" stroke-width="1.25"/>
<text class="t" transform="translate(333.00,211.97) scale(0.915,1)" font-size="10.5" text-anchor="end">40</text>
<path d="M333.20 181.98H338.00" stroke="#000" stroke-width="1.25"/>
<text class="t" transform="translate(333.00,186.03) scale(0.915,1)" font-size="10.5" text-anchor="end">60</text>
<path d="M333.20 156.04H338.00" stroke="#000" stroke-width="1.25"/>
<text class="t" transform="translate(333.00,160.09) scale(0.915,1)" font-size="10.5" text-anchor="end">80</text>
<path d="M333.20 130.10H338.00" stroke="#000" stroke-width="1.25"/>
<text class="t" transform="translate(333.00,134.15) scale(0.915,1)" font-size="10.5" text-anchor="end">100</text>
<path d="M338.00 259.80V263.80" stroke="#000" stroke-width="1.3"/>
<text class="t" transform="translate(338.00,273.90) scale(0.915,1)" font-size="10.5" text-anchor="middle">0</text>
<path d="M386.70 259.80V263.80" stroke="#000" stroke-width="1.3"/>
<text class="t" transform="translate(386.70,273.90) scale(0.915,1)" font-size="10.5" text-anchor="middle">12</text>
<path d="M435.39 259.80V263.80" stroke="#000" stroke-width="1.3"/>
<text class="t" transform="translate(435.39,273.90) scale(0.915,1)" font-size="10.5" text-anchor="middle">24</text>
<path d="M484.09 259.80V263.80" stroke="#000" stroke-width="1.3"/>
<text class="t" transform="translate(484.09,273.90) scale(0.915,1)" font-size="10.5" text-anchor="middle">36</text>
<path d="M532.78 259.80V263.80" stroke="#000" stroke-width="1.3"/>
<text class="t" transform="translate(532.78,273.90) scale(0.915,1)" font-size="10.5" text-anchor="middle">48</text>
<text class="t" transform="translate(435.39,287.50) scale(0.915,1)" font-size="10.5" text-anchor="middle">hpi</text>
<text class="t" transform="translate(310.30,193.95) rotate(-90) scale(0.915,1)" font-size="10.5" text-anchor="middle">% survival</text>
<path d="M338.00 130.10H386.70V143.07H411.04V156.04H500.73V169.01H532.78" fill="none" stroke="#9a9a9a" stroke-width="0.8"/>
<path d="M338.00 129.90H532.78" stroke="#000" stroke-width="1.0" stroke-dasharray="1.7 1.1"/>
<path d="M338.30 130.85H532.78" stroke="#444" stroke-width="0.9" stroke-dasharray="1.1 1.7"/>
<circle cx="386.70" cy="143.07" r="1.9" fill="#000"/>
<circle cx="411.04" cy="156.04" r="1.9" fill="#000"/>
<circle cx="500.73" cy="169.01" r="1.9" fill="#000"/>
<circle cx="532.78" cy="169.01" r="1.9" fill="#000"/>
<circle cx="532.78" cy="130.10" r="2.2" fill="#000"/>
<path d="M338.00 130.10H376.55V156.04H390.75V169.01H413.48V181.98H425.65V207.92H436.20V220.89H532.78" fill="none" stroke="#1a1a1a" stroke-width="0.95" stroke-dasharray="2.1 1.2"/>
<path d="M376.55 154.04L378.95 158.36H374.15Z" fill="#000"/>
<path d="M390.75 167.01L393.15 171.33H388.35Z" fill="#000"/>
<path d="M413.48 179.98L415.88 184.30H411.08Z" fill="#000"/>
<path d="M425.65 205.92L428.05 210.24H423.25Z" fill="#000"/>
<path d="M436.20 218.89L438.60 223.21H433.80Z" fill="#000"/>
<path d="M533.18 218.89L535.58 223.21H530.78Z" fill="#000"/>
<path d="M338.00 130.10H370.46V143.07H378.58V169.01H386.70V194.95H402.93V207.92H415.10V233.86H427.28V246.83H532.78" fill="none" stroke="#1a1a1a" stroke-width="1.0"/>
<rect x="368.46" y="141.07" width="4.0" height="4.0" fill="#000"/>
<rect x="376.58" y="167.01" width="4.0" height="4.0" fill="#000"/>
<rect x="384.70" y="192.95" width="4.0" height="4.0" fill="#000"/>
<rect x="400.93" y="205.92" width="4.0" height="4.0" fill="#000"/>
<rect x="413.10" y="231.86" width="4.0" height="4.0" fill="#000"/>
<rect x="425.28" y="244.83" width="4.0" height="4.0" fill="#000"/>
<rect x="531.18" y="244.83" width="4.0" height="4.0" fill="#000"/>
<path d="M541.2 129.4H544.9V168.2H541.2" fill="none" stroke="#222" stroke-width="1.1"/>
<path d="M541.2 218.2H545.3V247.2H541.2" fill="none" stroke="#222" stroke-width="1.1"/>
<text class="t" transform="translate(549.80,151.10) scale(0.915,1)" font-size="10.8">n.s.</text>
<text class="t" transform="translate(549.80,233.70) scale(0.915,1)" font-size="10.8">n.s.</text>
<path d="M339.9 212.8H355.2" stroke="#000" stroke-width="1.2" stroke-dasharray="1.1 1.6"/>
<circle cx="347.80" cy="212.80" r="2.2" fill="#000"/>
<path d="M339.9 222.4H355.2" stroke="#444" stroke-width="0.85" stroke-dasharray="2.2 1 0.8 1"/>
<path d="M347.8 220.20000000000002L349.8 222.4L347.8 224.6L345.8 222.4Z" fill="#111"/>
<path d="M339.9 232.3H355.2" stroke="#a4a4a4" stroke-width="0.85"/>
<circle cx="347.80" cy="232.30" r="1.75" fill="#000"/>
<path d="M339.9 241.9H355.2" stroke="#1a1a1a" stroke-width="1.1" stroke-dasharray="2.2 1.3"/>
<path d="M347.80 239.30L350.20 243.62H345.40Z" fill="#000"/>
<path d="M339.9 251.6H355.2" stroke="#1a1a1a" stroke-width="1.3"/>
<rect x="345.80" y="249.60" width="4.0" height="4.0" fill="#000"/>
<text class="t" transform="translate(363.00,216.35) scale(0.915,1)" font-size="10.5">mock</text>
<text class="t" transform="translate(363.00,225.95) scale(0.915,1)" font-size="10.5">HG1102</text>
<text class="t" transform="translate(363.00,235.85) scale(0.915,1)" font-size="10.5">SNG1302</text>
<text class="t" transform="translate(363.00,245.45) scale(0.915,1)" font-size="10.5">SNG1301</text>
<text class="t" transform="translate(363.00,255.15) scale(0.915,1)" font-size="10.5">HG0902</text>
</svg>
</body></html>
